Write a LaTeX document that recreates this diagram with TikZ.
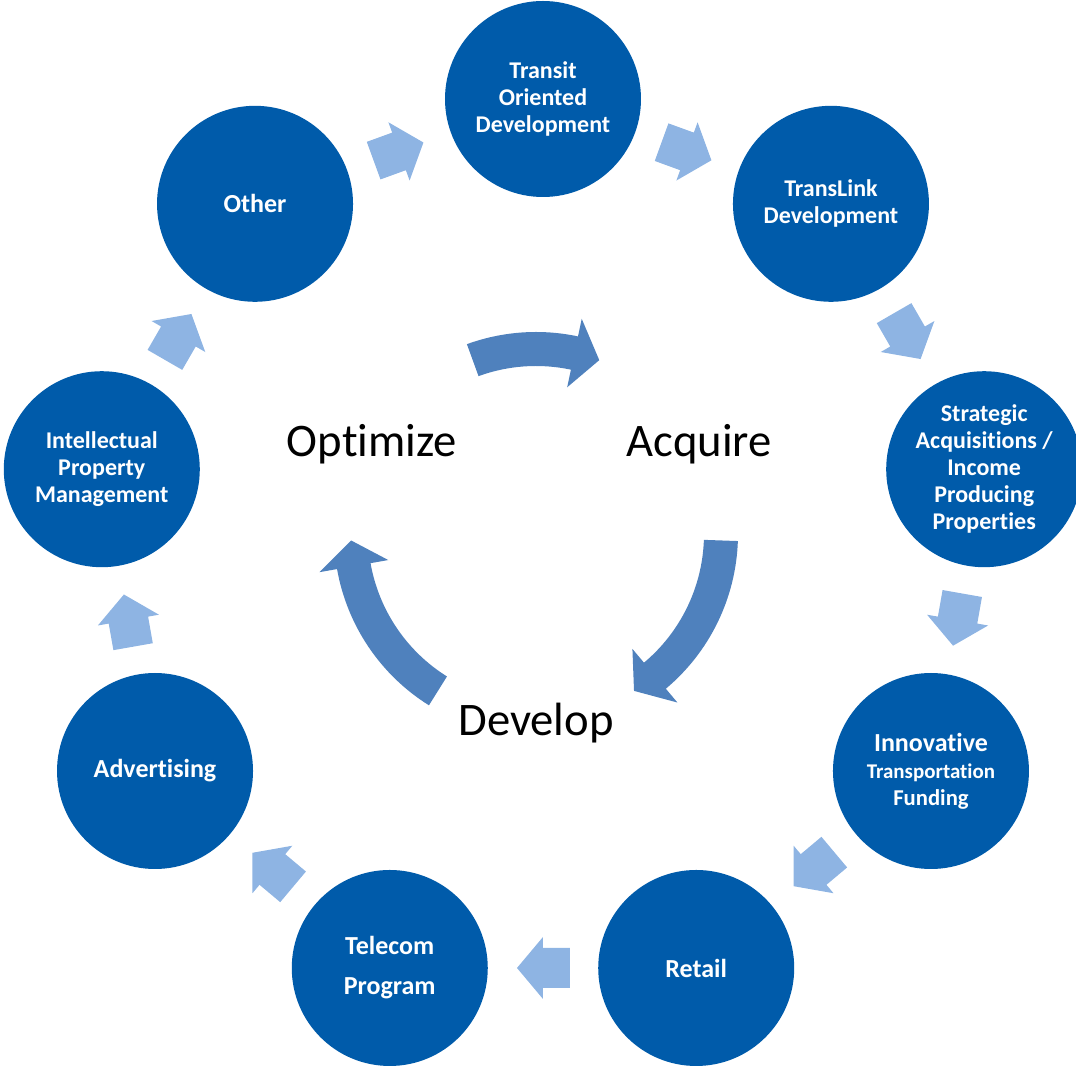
\documentclass[tikz,border=0pt]{standalone}
\usepackage{fontspec}
\setmainfont{Carlito}[Ligatures=NoCommon]
\usetikzlibrary{calc}
\definecolor{ringblue}{RGB}{0,91,170}
\definecolor{steplight}{RGB}{142,180,227}
\definecolor{cyclemid}{RGB}{79,129,189}
\tikzset{
  phase/.style     = {circle, fill=ringblue, text=white, minimum size=147pt, inner sep=0pt,
                      align=center, font=\bfseries\fontsize{18}{20.3}\selectfont},
  bigphase/.style  = {phase, font=\bfseries\fontsize{19.5}{30}\selectfont},
  stage/.style     = {font=\fontsize{35}{40}\selectfont},
  steparrow/.style = {fill=steplight},
  cyclearrow/.style = {fill=cyclemid}
}
% block arrow half way between two circles
\newcommand{\ringstep}[3]{%
  \fill[steparrow, shift={($(#1)!0.5!(#2)$)}, rotate=#3]
    (-27,20) -- (0,20) -- (0,31) -- (26,0) -- (0,-31) -- (0,-20) -- (-27,-20) -- cycle;}
% curved arrow round the hub: tail angle, head base angle, tip angle
\newcommand{\cyclestep}[3]{%
  \fill[cyclearrow] ($(hub)+(#1:202)$) arc[start angle=#1, end angle=#2, radius=151.5pt]
    -- ($(hub)+(#2:220)$) -- ($(hub)+(#3:185)$) -- ($(hub)+(#2:150)$) -- ($(hub)+(#2:168)$)
    arc[start angle=#2, end angle=#1, radius=126pt] -- cycle;}

\begin{document}
\begin{tikzpicture}[x=0.75pt,y=0.75pt]
\useasboundingbox (-543,-520) rectangle (533,547);
\coordinate (hub) at (-7,13);

\node[phase] (tod) at (90:448) {Transit\\Oriented\\Development};
\node[phase] (tld) at (50:448) {TransLink\\Development};
\node[phase] (sap) at (10:448) {Strategic\\Acquisitions /\\Income\\Producing\\Properties};
\node[phase] (itf) at (-30:448) {{\fontsize{19.5}{26}\selectfont Innovative}\\
  {\fontsize{15.7}{19.5}\selectfont Transportation}\\{\fontsize{17}{19.5}\selectfont Funding}};
\node[bigphase] (retail) at (-70:448) {Retail};
\node[bigphase] (telecom) at (-110:448) {Telecom\\Program};
\node[bigphase] (adv) at (-150:448) {Advertising};
\node[phase] (ipm) at (170:448) {Intellectual\\Property\\Management};
\node[bigphase] (other) at (130:448) {Other};

\ringstep{other}{tod}{20}
\ringstep{tod}{tld}{-20}
\ringstep{tld}{sap}{-60}
\ringstep{sap}{itf}{-100}
\ringstep{itf}{retail}{-140}
\ringstep{retail}{telecom}{180}
\ringstep{telecom}{adv}{140}
\ringstep{adv}{ipm}{100}
\ringstep{ipm}{other}{60}

\cyclestep{110}{78}{70}
\cyclestep{-2}{-50}{-58}
\cyclestep{-122}{-170}{-178}

\node[stage] (optimize) at (-171,103) {Optimize};
\node[stage] (acquire) at (156,103) {Acquire};
\node[stage] (develop) at (-7,-176) {Develop};
\end{tikzpicture}
\end{document}
